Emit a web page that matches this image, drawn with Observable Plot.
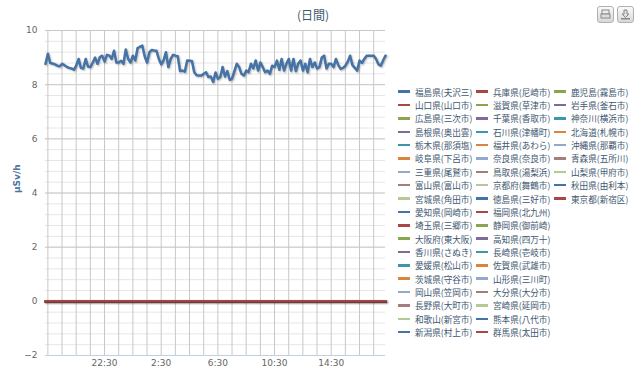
<!DOCTYPE html>
<html><head><meta charset="utf-8">
<script src="https://cdn.jsdelivr.net/npm/d3@7"></script>
<script src="https://cdn.jsdelivr.net/npm/@observablehq/plot@0.6"></script>
<style>
html,body{margin:0;padding:0;background:#fff;}
#chart{position:relative;width:640px;height:367px;overflow:hidden;background:#fff;font-family:"DejaVu Sans",sans-serif;}
#plot{position:absolute;left:0;top:0;}
#title{position:absolute;left:0;width:626px;top:7px;text-align:center;font-size:12px;line-height:16px;color:#3E576F;font-family:"Noto Sans CJK JP",sans-serif;}
#legend{position:absolute;left:398px;top:85px;display:grid;grid-auto-flow:column;grid-template-rows:repeat(19,13.37px);grid-template-columns:78px 78px 78px;font-family:"Noto Sans CJK JP",sans-serif;font-size:8.6px;color:#3E576F;}
.item{display:flex;align-items:center;white-space:nowrap;}
.sym{display:inline-block;width:12px;height:2.5px;margin-right:5px;}
.btn{position:absolute;top:6px;width:15px;height:15px;border:1px solid #B0B0B0;border-radius:3px;background:linear-gradient(#fafafa,#d8d8d8);}
</style></head>
<body>
<div id="chart">
  <div id="plot"></div>
  <div id="title"></div>
  <div id="legend"></div>
  <div class="btn" style="left:597px"><svg width="15" height="15"><rect x="4" y="3" width="7" height="4" fill="#eee" stroke="#888"/><rect x="3" y="7" width="9" height="4" fill="#ddd" stroke="#888"/></svg></div>
  <div class="btn" style="left:617px"><svg width="15" height="15"><path d="M6 3h3v4h2l-3.5 3.5L4 7h2z" fill="#ddd" stroke="#888"/><rect x="3" y="11" width="9" height="1.5" fill="#888"/></svg></div>
</div>
<script>
const chartTitle = "(日間)";
const yAxisTitle = "μSv/h";
const seriesNames = [
  "福島県(夫沢三)","山口県(山口市)","広島県(三次市)","島根県(奥出雲)","栃木県(那須塩)","岐阜県(下呂市)","三重県(尾鷲市)","富山県(富山市)","宮城県(角田市)","愛知県(岡崎市)","埼玉県(三郷市)","大阪府(東大阪)","香川県(さぬき)","愛媛県(松山市)","茨城県(守谷市)","岡山県(笠岡市)","長野県(大町市)","和歌山(新宮市)","新潟県(村上市)",
  "兵庫県(尼崎市)","滋賀県(草津市)","千葉県(香取市)","石川県(津幡町)","福井県(あわら)","奈良県(奈良市)","鳥取県(湯梨浜)","京都府(舞鶴市)","徳島県(三好市)","福岡県(北九州)","静岡県(御前崎)","高知県(四万十)","長崎県(壱岐市)","佐賀県(武雄市)","山形県(三川町)","大分県(大分市)","宮崎県(延岡市)","熊本県(八代市)","群馬県(太田市)",
  "鹿児島(霧島市)","岩手県(釜石市)","神奈川(横浜市)","北海道(札幌市)","沖縄県(那覇市)","青森県(五所川)","山梨県(甲府市)","秋田県(由利本)","東京都(新宿区)"
];
const palette = ["#4572A7","#AA4643","#89A54E","#80699B","#3D96AE","#DB843D","#92A8CD","#A47D7C","#B5CA92"];
// 福島県(夫沢三), 10-minute readings
const startTime = "2011-09-01T18:20:00";
const stepMinutes = 10;
const fukushimaValues = [
  8.77,9.14,8.80,8.78,8.75,8.70,8.68,8.77,8.72,8.66,8.62,8.60,8.55,8.70,8.95,8.62,8.60,8.95,8.67,8.65,
  8.82,9.00,8.77,9.02,9.07,8.85,9.10,9.08,8.95,9.25,8.82,8.82,8.88,8.77,9.30,8.95,8.82,9.07,8.89,9.35,
  9.40,9.44,9.05,8.82,9.20,9.28,9.26,9.25,8.95,8.75,8.90,9.20,8.65,8.95,9.10,9.07,9.05,8.50,8.52,8.48,
  8.89,8.88,8.87,8.46,8.35,8.34,8.34,8.40,8.46,8.28,8.30,8.10,8.45,8.22,8.28,8.65,8.30,8.50,8.18,8.22,
  8.50,8.77,8.65,8.40,8.34,8.52,8.46,8.77,8.60,8.89,8.52,8.82,8.65,8.46,8.52,8.40,8.70,8.65,8.89,8.55,
  8.95,8.52,8.77,8.95,8.52,8.95,8.50,8.77,8.89,8.52,8.77,8.46,8.95,8.65,8.82,8.60,8.65,9.00,9.07,8.60,
  8.77,8.77,8.65,8.95,8.72,8.58,8.62,8.70,8.85,9.07,8.72,8.62,8.52,8.89,8.80,8.95,9.07,9.07,9.07,9.07,
  8.95,8.75,8.70,8.90,9.07
];
// all other stations read 0 over the whole period (first and last reading)
const otherStationLevel = [0, 0];
const yTicks = [-2, 0, 2, 4, 6, 8, 10];
const yMinorStep = 0.4;
const xTickLabels = ["22:30", "2:30", "6:30", "10:30", "14:30"];

const t0 = new Date(startTime);
const times = fukushimaValues.map((v, i) => new Date(+t0 + i * stepMinutes * 60000));
const tEnd = times[times.length - 1];
const fuku = fukushimaValues.map((v, i) => ({t: times[i], v, s: seriesNames[0]}));
const flat = seriesNames.slice(1).flatMap(s => otherStationLevel.map((v, j) => ({t: j === 0 ? t0 : tEnd, v, s})));
const lastFlat = flat.filter(d => d.s === seriesNames[seriesNames.length - 1]);
const colors = seriesNames.map((s, i) => palette[i % palette.length]);

const hourGrid = d3.timeMinute.every(30).range(t0, tEnd).filter(d => d.getMinutes() === 30);
const labelTicks = hourGrid.filter(d => xTickLabels.includes(d3.timeFormat("%-H:%M")(d)));
const minorY = d3.range(-2, 10.0001, yMinorStep).map(v => +v.toFixed(2));

// classic chart line shadow: offset translucent strokes under a series
const shadow = (data, k) => [[5, 0.05], [3, 0.1], [1, 0.15]].map(([w, o]) =>
  Plot.line(data, {x: "t", y: "v", z: "s", stroke: "#000", strokeOpacity: o * k, strokeWidth: w, dx: 1, dy: 1}));

const plot = Plot.plot({
  width: 640, height: 367,
  marginLeft: 45, marginRight: 255, marginTop: 30, marginBottom: 12,
  style: {fontFamily: "DejaVu Sans, sans-serif", background: "transparent"},
  x: {type: "time", domain: [t0, tEnd], axis: null},
  y: {domain: [-2, 10], axis: null},
  color: {domain: seriesNames, range: colors},
  marks: [
    Plot.ruleY(minorY, {stroke: "#E6E6E6", strokeWidth: 1}),
    Plot.ruleY(yTicks, {stroke: "#C8C8C8", strokeWidth: 1}),
    Plot.ruleX(hourGrid, {stroke: "#C8C8C8", strokeWidth: 1}),
    Plot.ruleY([-2], {stroke: "#C0D0E0", strokeWidth: 1}),
    ...shadow(fuku, 1),
    Plot.line(fuku, {x: "t", y: "v", stroke: "s", strokeWidth: 2.5}),
    Plot.line(flat, {x: "t", y: "v", z: "s", stroke: "s", strokeWidth: 2.5}),
    ...shadow(lastFlat, 2.5),
    Plot.line(lastFlat, {x: "t", y: "v", z: "s", stroke: "s", strokeWidth: 2.5, strokeOpacity: 0.85}),
    Plot.axisY(yTicks, {label: null, tickSize: 0, tickPadding: 8, fontSize: 9, color: "#666", tickFormat: d => d < 0 ? "−" + Math.abs(d) : String(d)}),
    Plot.axisX(labelTicks, {label: null, tickSize: 0, tickPadding: 4, fontSize: 9, color: "#666", tickFormat: d3.timeFormat("%-H:%M")}),
    Plot.text([yAxisTitle], {frameAnchor: "left", dx: -28, rotate: -90, fill: "#4d759e", fontSize: 9, fontWeight: "bold"})
  ]
});
document.getElementById("plot").appendChild(plot);
document.getElementById("title").textContent = chartTitle;
const legend = document.getElementById("legend");
seriesNames.forEach((s, i) => {
  const it = document.createElement("div");
  it.className = "item";
  it.innerHTML = `<span class="sym" style="background:${colors[i]}"></span><span>${s}</span>`;
  legend.appendChild(it);
});
</script>
</body></html>
